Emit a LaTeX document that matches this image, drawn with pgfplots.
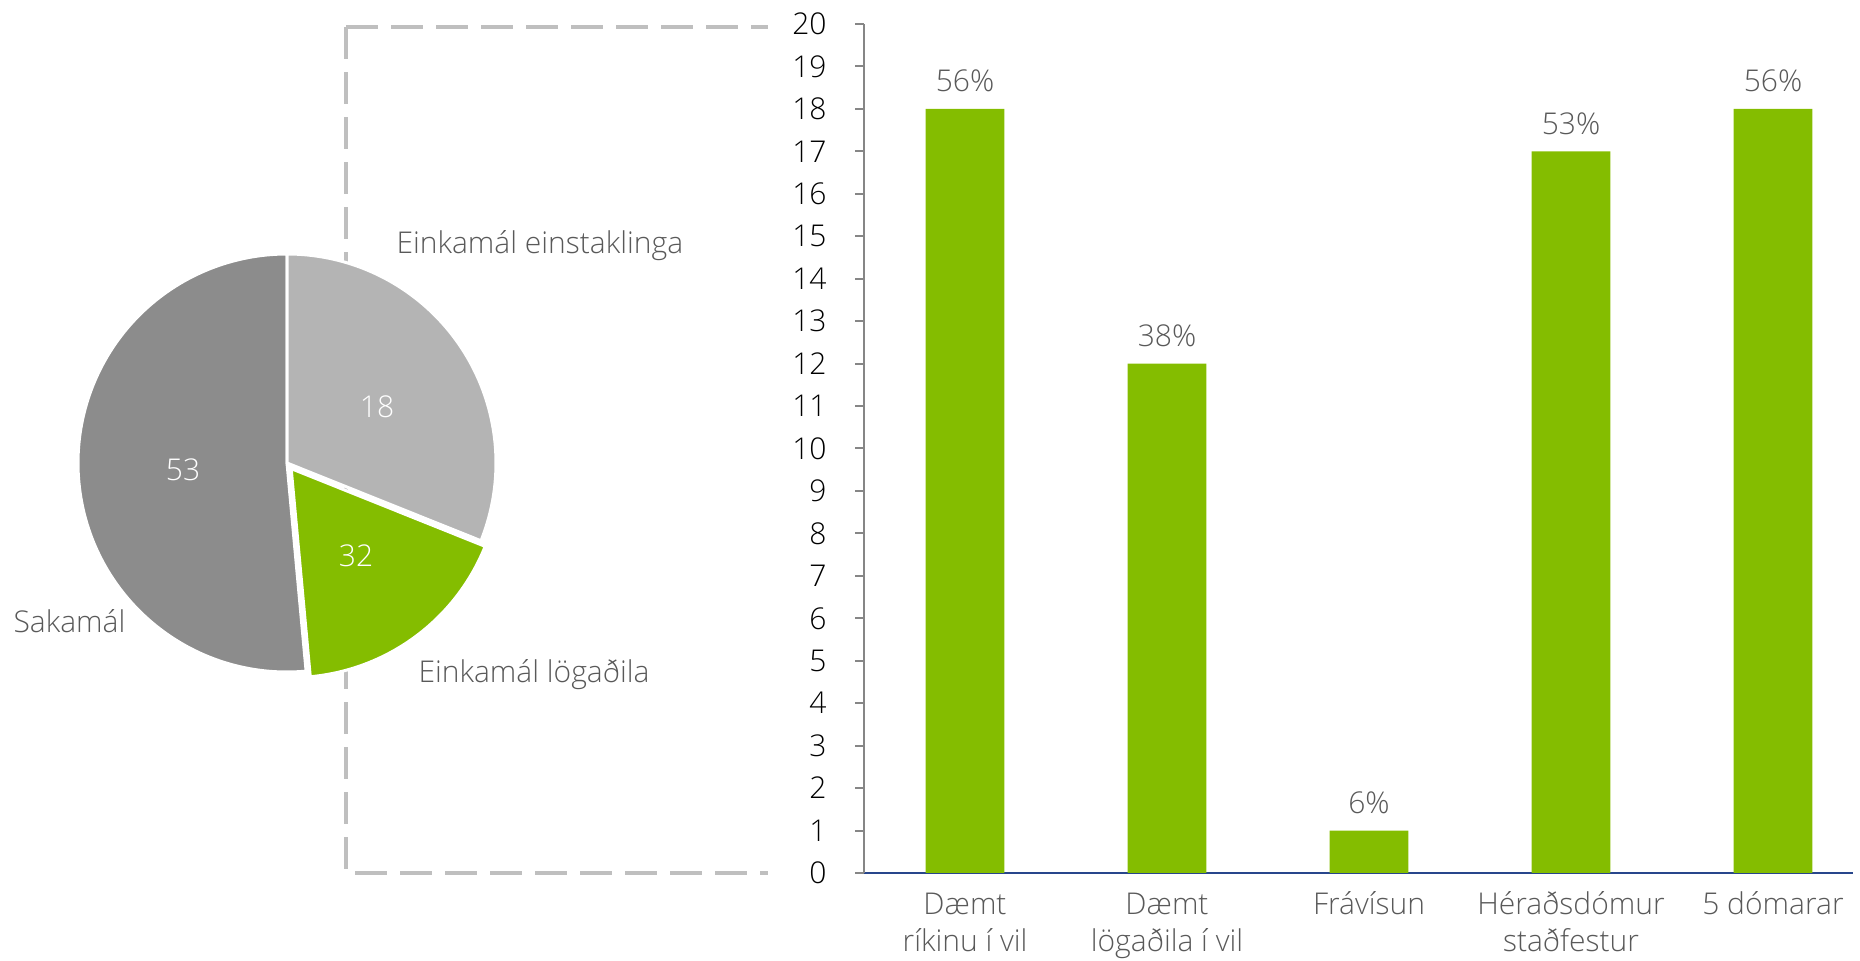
\documentclass[border=0pt]{standalone}
\usepackage{fontspec}
\setmainfont{Open Sans}[UprightFont=* Light]
\usepackage{pgfplots}
\pgfplotsset{compat=1.18}
\usetikzlibrary{calc}

\definecolor{barGreen}{RGB}{132,189,0}
\definecolor{pieDark}{RGB}{140,140,140}
\definecolor{pieLight}{RGB}{180,180,180}
\definecolor{frameGray}{RGB}{191,191,191}
\definecolor{labelGray}{RGB}{89,89,89}
\definecolor{axisBlue}{RGB}{40,70,140}
\definecolor{axisGray}{RGB}{134,134,134}

% pie values (slice sizes, clockwise from the top)
\def\pieA{32}
\def\pieB{18}
\def\pieC{53}
\pgfmathsetmacro\pieTot{\pieA+\pieB+\pieC}
\pgfmathsetmacro\angA{90-360*\pieA/\pieTot}
\pgfmathsetmacro\angB{\angA-360*\pieB/\pieTot}
\pgfmathsetmacro\angMid{(\angA+\angB)/2}
\def\pieR{83.6pt}

\begin{document}
\fontsize{12}{14.8}\selectfont
\begin{tikzpicture}
\path[use as bounding box] (0,0) rectangle (744pt,384.4pt);

% left part: pie and dashed frame, in pixel coordinates
\begin{axis}[
  at={(0pt,0pt)}, anchor=south west,
  scale only axis, width=744pt, height=384.4pt,
  xmin=0, xmax=1860, ymin=0, ymax=961, y dir=reverse,
  hide axis, clip=false,
]
  \draw[frameGray, line width=1.6pt, dash pattern=on 12.8pt off 5.2pt]
    (axis cs:346,27) -- (axis cs:768,27);
  \draw[frameGray, line width=1.6pt, dash pattern=on 12.8pt off 5.2pt]
    (axis cs:346,27) -- (axis cs:346,873) -- (axis cs:768,873);

  \fill[pieDark, draw=white, line width=1.2pt] (axis cs:287,463) -- ++(\angB:\pieR)
    arc[start angle=\angB, end angle=-270, radius=\pieR] -- cycle;
  \fill[pieLight, draw=white, line width=1.2pt] (axis cs:287,463) -- ++(90:\pieR)
    arc[start angle=90, end angle=\angA, radius=\pieR] -- cycle;
  \fill[barGreen, draw=white, line width=1.2pt] ($(axis cs:287,463)+(\angMid:2.8pt)$) -- ++(\angA:\pieR)
    arc[start angle=\angA, end angle=\angB, radius=\pieR] -- cycle;

  \node[white, anchor=base, inner sep=0pt] at (axis cs:377,417) {18};
  \node[white, anchor=base, inner sep=0pt] at (axis cs:356,566) {32};
  \node[white, anchor=base, inner sep=0pt] at (axis cs:183,480) {53};

  \node[labelGray, anchor=base west, inner sep=0pt] at (axis cs:396,253) {Einkamál einstaklinga};
  \node[labelGray, anchor=base west, inner sep=0pt] at (axis cs:418,682) {Einkamál lögaðila};
  \node[labelGray, anchor=base west, inner sep=0pt] at (axis cs:13,632) {Sakamál};
\end{axis}

% right part: bar chart
\begin{axis}[
  at={(345.6pt,35.2pt)}, anchor=south west,
  scale only axis, width=395.6pt, height=339.6pt,
  xmin=-0.5, xmax=4.396, ymin=0, ymax=20,
  ybar, bar width=0.39,
  axis x line=bottom, axis y line=left,
  x axis line style={-, draw=axisBlue, line width=1pt},
  y axis line style={-, draw=axisGray, line width=0.8pt},
  xtick={0,...,4},
  xticklabels={{\strut Dæmt\\ríkinu í vil},{\strut Dæmt\\lögaðila í vil},{\strut Frávísun},{\strut Héraðsdómur\\staðfestur},{\strut 5 dómarar}},
  xticklabel style={align=center, text=labelGray, anchor=north, inner sep=0pt, yshift=-2.6pt},
  major x tick style={draw=none},
  ytick={0,...,20},
  tick align=outside, major tick length=3.6pt,
  major y tick style={draw=axisGray, line width=0.8pt},
  yticklabel style={anchor=east, inner sep=0pt, xshift=-11.2pt},
  /pgf/number format/assume math mode=true,
  clip=false,
]
  \addplot[fill=barGreen, draw=none, point meta=explicit symbolic,
    nodes near coords={\pgfplotspointmeta\%},
    every node near coord/.append style={anchor=base, inner sep=0pt, yshift=6.8pt, text=labelGray}]
    coordinates {(0,18)[56] (1,12)[38] (2,1)[6] (3,17)[53] (4,18)[56]};
\end{axis}
\end{tikzpicture}
\end{document}
